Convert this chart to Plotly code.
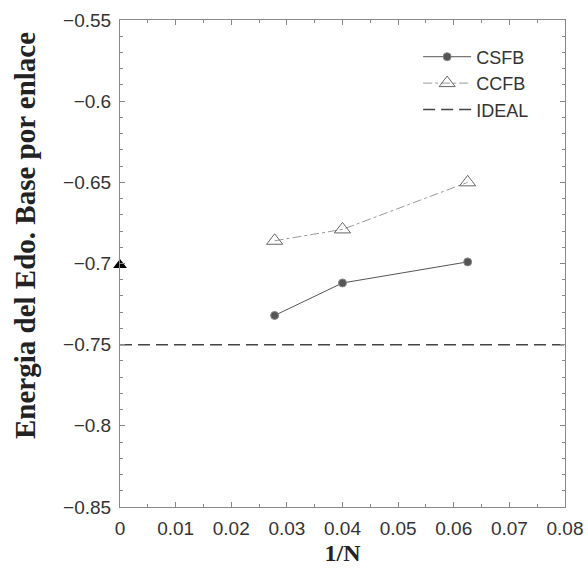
import plotly.graph_objects as go

inv_n = [0.0278, 0.04, 0.0625]
csfb = [-0.732, -0.712, -0.699]
ccfb = [-0.686, -0.679, -0.650]
exact_x = [0.0]
exact_y = [-0.701]
ideal_x = [0.0, 0.08]
ideal_y = [-0.75, -0.75]

fig = go.Figure()
fig.add_trace(go.Scatter(x=inv_n, y=csfb, mode="lines+markers", name="CSFB",
                         line=dict(color="#555555", width=1),
                         marker=dict(symbol="circle", size=8, color="#555555",
                                     line=dict(color="#888888", width=1))))
fig.add_trace(go.Scatter(x=inv_n, y=ccfb, mode="lines+markers", name="CCFB",
                         line=dict(color="#999999", width=1, dash="dashdot"),
                         marker=dict(symbol="triangle-up-open", size=14, color="#666666",
                                     line=dict(width=1))))
fig.add_trace(go.Scatter(x=ideal_x, y=ideal_y, mode="lines", name="IDEAL",
                         line=dict(color="#444444", width=1.5, dash="12px,6px")))
fig.add_trace(go.Scatter(x=exact_x, y=exact_y, mode="markers", showlegend=False,
                         marker=dict(symbol="triangle-up", size=12, color="black"),
                         cliponaxis=False))

axis_common = dict(showline=True, linecolor="#888888", linewidth=1, mirror="allticks",
                   ticks="inside", ticklen=5, tickcolor="#888888", showgrid=False,
                   zeroline=False, ticklabelstandoff=4, automargin=False,
                   tickfont=dict(family="Liberation Sans, Arial", size=19, color="#333333"))

fig.update_layout(
    width=588, height=573,
    margin=dict(l=120, r=23, t=20, b=66),
    paper_bgcolor="white", plot_bgcolor="white",
    xaxis=dict(range=[0, 0.08], dtick=0.01, tick0=0,
               minor=dict(ticks="inside", dtick=0.005, ticklen=3, tickcolor="#888888"),
               title=dict(text="<b>1/N</b>", standoff=6,
                          font=dict(family="Liberation Serif, Times New Roman", size=24, color="#222222")),
               **axis_common),
    yaxis=dict(range=[-0.85, -0.55], dtick=0.05, tick0=-0.85,
               minor=dict(ticks="inside", dtick=0.01, ticklen=3, tickcolor="#888888"),
               **axis_common),
    legend=dict(x=0.67, y=0.962, xanchor="left", yanchor="top", itemwidth=48,
                bgcolor="rgba(0,0,0,0)", tracegroupgap=0,
                font=dict(family="Liberation Sans, Arial", size=18, color="#333333")),
    annotations=[dict(text="<b>Energia del Edo. Base por enlace</b>", textangle=-90,
                      xref="paper", yref="paper", x=-0.2135, y=0.5585,
                      xanchor="center", yanchor="middle", showarrow=False,
                      font=dict(family="Liberation Serif, Times New Roman", size=29, color="#222222"))],
)

fig.write_html("out.html")
